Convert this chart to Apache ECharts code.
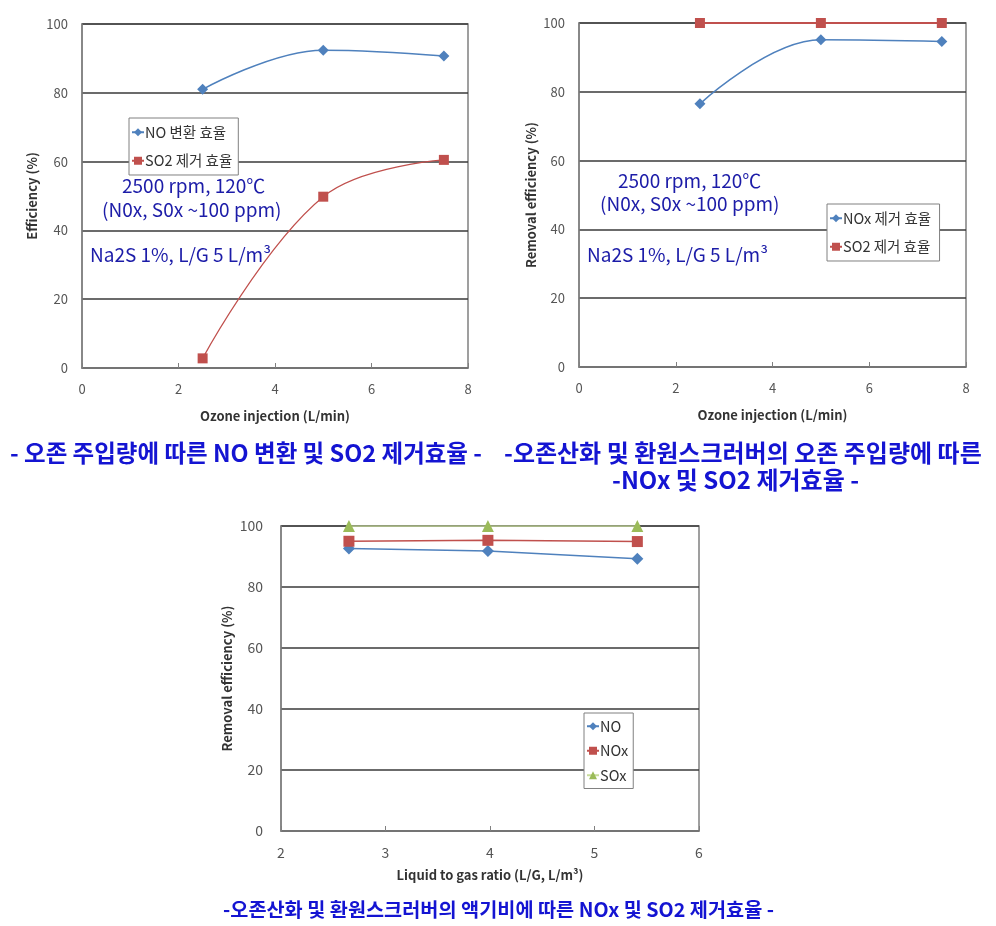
<!DOCTYPE html>
<html>
<head>
<meta charset="utf-8">
<script src="https://cdn.jsdelivr.net/npm/echarts@6/dist/echarts.min.js"></script>
<style>
html,body{margin:0;padding:0;background:#fff;}
#main{width:996px;height:926px;}
</style>
</head>
<body>
<div id="main"></div>
<script>
// ---- Data ----
const ozoneX = [2.5, 5, 7.5];
const noConversion = [81, 92.4, 90.7];
const so2RemovalA = [2.8, 49.8, 60.5];
const noxRemoval = [76.5, 95.1, 94.6];
const so2RemovalB = [100, 100, 100];
const lgX = [2.65, 3.98, 5.41];
const lgNO = [92.6, 91.8, 89.3];
const lgNOx = [95.0, 95.3, 94.9];
const lgSOx = [100, 100, 100];
const ozoneTicks = [0, 2, 4, 6, 8];
const lgTicks = [2, 3, 4, 5, 6];
const yTicks = [0, 20, 40, 60, 80, 100];

const FONT = '"Noto Sans CJK KR", "Noto Sans", sans-serif';
const BLUE = '#4F81BD', RED = '#C0504D', GREEN = '#9BBB59';
const pairs = (xs, ys) => xs.map((x, i) => [x, ys[i]]);

function xAxisCfg(grid, name, ticks, gap, fs) {
  return {
    type: 'value', gridIndex: grid, min: ticks[0], max: ticks[ticks.length - 1],
    interval: ticks[1] - ticks[0],
    name: name, nameLocation: 'middle', nameGap: gap,
    nameTextStyle: { fontFamily: FONT, fontSize: 13, fontWeight: 'bold', color: '#333' },
    axisLine: { show: true, onZero: false, lineStyle: { color: '#808080', width: 1.5 } },
    axisTick: { show: true, inside: true, length: 5, lineStyle: { color: '#808080' } },
    axisLabel: { fontFamily: FONT, fontSize: fs || 13, color: '#555', margin: 15 },
    splitLine: { show: false }
  };
}
function yAxisCfg(grid, name, gap, margin, fs) {
  return {
    type: 'value', gridIndex: grid, min: yTicks[0], max: yTicks[yTicks.length - 1],
    interval: yTicks[1] - yTicks[0],
    name: name, nameLocation: 'middle', nameGap: gap,
    nameTextStyle: { fontFamily: FONT, fontSize: 13, fontWeight: 'bold', color: '#333' },
    axisLine: { show: true, lineStyle: { color: '#808080', width: 1.5 } },
    axisTick: { show: false },
    axisLabel: { fontFamily: FONT, fontSize: fs || 13, color: '#555', margin: margin },
    splitLine: { show: true, lineStyle: { color: '#3a3a3a', width: 1.5 } }
  };
}
const legendBase = {
  orient: 'vertical', backgroundColor: '#fff', borderColor: '#808080', borderWidth: 1,
  itemWidth: 12, itemHeight: 10, itemGap: 14, padding: [7, 6, 7, 2],
  textStyle: { fontFamily: FONT, fontSize: 14.5, color: '#333', padding: [0, 0, 0, -4] },
  selectedMode: false
};
const annot = (x, y, text) => ({
  type: 'text', left: x, top: y,
  style: { text: text, fontFamily: FONT, fontSize: 19, fill: '#1c1ca8' }
});
const caption = (x, y, text, fs) => ({
  type: 'text', left: x, top: y,
  style: { text: text, fontFamily: FONT, fontSize: fs, fontWeight: 'bold', fill: '#1414d2' }
});

const chart = echarts.init(document.getElementById('main'));
chart.setOption({
  backgroundColor: '#fff',
  animation: false,
  grid: [
    { left: 82, top: 24, width: 386, height: 344, show: true, borderColor: '#808080', borderWidth: 1.5 },
    { left: 579, top: 23, width: 387, height: 344, show: true, borderColor: '#808080', borderWidth: 1.5 },
    { left: 281, top: 526, width: 418, height: 305, show: true, borderColor: '#808080', borderWidth: 1.5 }
  ],
  xAxis: [
    xAxisCfg(0, 'Ozone injection (L/min)', ozoneTicks, 42),
    xAxisCfg(1, 'Ozone injection (L/min)', ozoneTicks, 42),
    xAxisCfg(2, 'Liquid to gas ratio (L/G, L/m³)', lgTicks, 38, 14)
  ],
  yAxis: [
    yAxisCfg(0, 'Efficiency (%)', 43, 14),
    yAxisCfg(1, 'Removal efficiency (%)', 41, 14),
    yAxisCfg(2, 'Removal efficiency (%)', 47, 18, 14)
  ],
  legend: [
    Object.assign({}, legendBase, { left: 129, top: 118, data: ['NO 변환 효율', 'SO2 제거 효율'] }),
    Object.assign({}, legendBase, { left: 827, top: 204, data: ['NOx 제거 효율', 'SO2 제거 효율 '] }),
    Object.assign({}, legendBase, { left: 584, top: 713, itemGap: 10, padding: [6, 5, 6, 2], data: ['NO', 'NOx', 'SOx'] })
  ],
  series: [
    { name: 'NO 변환 효율', type: 'line', xAxisIndex: 0, yAxisIndex: 0, data: pairs(ozoneX, noConversion),
      smooth: 0.4, symbol: 'diamond', symbolSize: 11, itemStyle: { color: BLUE },
      lineStyle: { color: BLUE, width: 1.5 } },
    { name: 'SO2 제거 효율', type: 'line', xAxisIndex: 0, yAxisIndex: 0, data: pairs(ozoneX, so2RemovalA),
      smooth: 0.4, symbol: 'rect', symbolSize: 10, itemStyle: { color: RED },
      lineStyle: { color: RED, width: 1.2 } },
    { name: 'NOx 제거 효율', type: 'line', xAxisIndex: 1, yAxisIndex: 1, data: pairs(ozoneX, noxRemoval),
      smooth: 0.4, symbol: 'diamond', symbolSize: 11, itemStyle: { color: BLUE },
      lineStyle: { color: BLUE, width: 1.5 } },
    { name: 'SO2 제거 효율 ', type: 'line', xAxisIndex: 1, yAxisIndex: 1, data: pairs(ozoneX, so2RemovalB),
      symbol: 'rect', symbolSize: 10, itemStyle: { color: RED },
      lineStyle: { color: RED, width: 2 } },
    { name: 'NO', type: 'line', xAxisIndex: 2, yAxisIndex: 2, data: pairs(lgX, lgNO),
      symbol: 'diamond', symbolSize: 12, itemStyle: { color: BLUE },
      lineStyle: { color: BLUE, width: 1.5 } },
    { name: 'NOx', type: 'line', xAxisIndex: 2, yAxisIndex: 2, data: pairs(lgX, lgNOx),
      symbol: 'rect', symbolSize: 11, itemStyle: { color: RED },
      lineStyle: { color: RED, width: 1.5 } },
    { name: 'SOx', type: 'line', xAxisIndex: 2, yAxisIndex: 2, data: pairs(lgX, lgSOx),
      symbol: 'triangle', symbolSize: 12, itemStyle: { color: GREEN },
      lineStyle: { color: '#C8DC9A', width: 1.5 } }
  ],
  graphic: [
    annot(122, 176, '2500 rpm, 120℃'),
    annot(102, 200, '(N0x, S0x ~100 ppm)'),
    annot(90, 245, 'Na2S 1%, L/G 5 L/m³'),
    annot(618, 171, '2500 rpm, 120℃'),
    annot(600, 194, '(N0x, S0x ~100 ppm)'),
    annot(587, 245, 'Na2S 1%, L/G 5 L/m³'),
    caption(10, 441, '- 오존 주입량에 따른 NO 변환 및 SO2 제거효율 -', 23.5),
    caption(504, 441, '-오존산화 및 환원스크러버의 오존 주입량에 따른', 24),
    caption(612, 468, '-NOx 및 SO2 제거효율 -', 24),
    caption(223, 900, '-오존산화 및 환원스크러버의 액기비에 따른 NOx 및 SO2 제거효율 -', 19.7)
  ]
});
</script>
</body>
</html>
